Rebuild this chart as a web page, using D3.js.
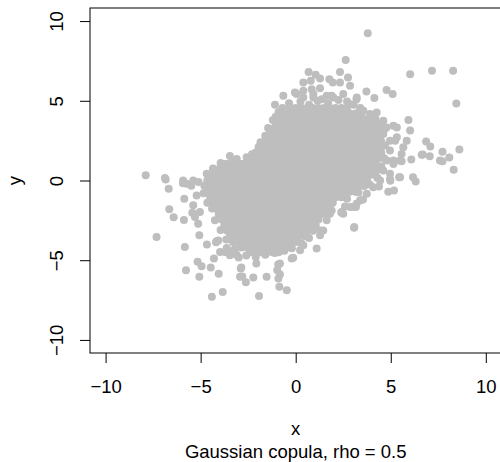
<!DOCTYPE html>
<html>
<head>
<meta charset="utf-8">
<script src="https://cdn.jsdelivr.net/npm/d3@7"></script>
<style>
	body { margin: 0; background: #fff; }
	svg { display: block; font-family: "Liberation Sans", Arial, Helvetica, sans-serif; }
</style>
</head>
<body>
<script>
"use strict";

var xTicks = [-10, -5, 0, 5, 10];
var yTicks = [-10, -5, 0, 5, 10];
var xLabel = "x";
var yLabel = "y";
var subTitle = "Gaussian copula, rho = 0.5";

// dense core of the cloud, read row by row: [y, [x values]]
var coreRows = [
	[4.55, [-0.3,0,0.3,0.6,0.9,1.2,1.5,1.8,2.1,2.4,2.7]],
	[4.2, [-0.75,-0.45,-0.15,0.15,0.45,0.75,1.05,1.35,1.65,1.95,2.25,2.55,2.85,3.15,3.45]],
	[3.85, [-0.9,-0.6,-0.3,0,0.3,0.6,0.9,1.2,1.5,1.8,2.1,2.4,2.7,3,3.3,3.6,3.9,4.2]],
	[3.5, [-1.05,-0.75,-0.45,-0.15,0.15,0.45,0.75,1.05,1.35,1.65,1.95,2.25,2.55,2.85,3.15,3.45,3.75,4.05,4.35]],
	[3.15, [-1.2,-0.9,-0.6,-0.3,0,0.3,0.6,0.9,1.2,1.5,1.8,2.1,2.4,2.7,3,3.3,3.6,3.9,4.2,4.5]],
	[2.8, [-1.35,-1.05,-0.75,-0.45,-0.15,0.15,0.45,0.75,1.05,1.35,1.65,1.95,2.25,2.55,2.85,3.15,3.45,3.75,4.05,4.35]],
	[2.45, [-1.5,-1.2,-0.9,-0.6,-0.3,0,0.3,0.6,0.9,1.2,1.5,1.8,2.1,2.4,2.7,3,3.3,3.6,3.9,4.2,4.5]],
	[2.1, [-1.95,-1.65,-1.35,-1.05,-0.75,-0.45,-0.15,0.15,0.45,0.75,1.05,1.35,1.65,1.95,2.25,2.55,2.85,3.15,3.45,3.75,4.05,4.35]],
	[1.75, [-2.1,-1.8,-1.5,-1.2,-0.9,-0.6,-0.3,0,0.3,0.6,0.9,1.2,1.5,1.8,2.1,2.4,2.7,3,3.3,3.6,3.9,4.2,4.5]],
	[1.4, [-2.55,-2.25,-1.95,-1.65,-1.35,-1.05,-0.75,-0.45,-0.15,0.15,0.45,0.75,1.05,1.35,1.65,1.95,2.25,2.55,2.85,3.15,3.45,3.75,4.05,4.35]],
	[1.05, [-3.6,-3.3,-3,-2.7,-2.4,-2.1,-1.8,-1.5,-1.2,-0.9,-0.6,-0.3,0,0.3,0.6,0.9,1.2,1.5,1.8,2.1,2.4,2.7,3,3.3,3.6,3.9,4.2]],
	[0.7, [-4.05,-3.75,-3.45,-3.15,-2.85,-2.55,-2.25,-1.95,-1.65,-1.35,-1.05,-0.75,-0.45,-0.15,0.15,0.45,0.75,1.05,1.35,1.65,1.95,2.25,2.55,2.85,3.15,3.45,3.75,4.05,4.35]],
	[0.35, [-4.5,-4.2,-3.9,-3.6,-3.3,-3,-2.7,-2.4,-2.1,-1.8,-1.5,-1.2,-0.9,-0.6,-0.3,0,0.3,0.6,0.9,1.2,1.5,1.8,2.1,2.4,2.7,3,3.3,3.6,3.9,4.2]],
	[0, [-4.65,-4.35,-4.05,-3.75,-3.45,-3.15,-2.85,-2.55,-2.25,-1.95,-1.65,-1.35,-1.05,-0.75,-0.45,-0.15,0.15,0.45,0.75,1.05,1.35,1.65,1.95,2.25,2.55,2.85,3.15,3.45,3.75]],
	[-0.35, [-4.8,-4.5,-4.2,-3.9,-3.6,-3.3,-3,-2.7,-2.4,-2.1,-1.8,-1.5,-1.2,-0.9,-0.6,-0.3,0,0.3,0.6,0.9,1.2,1.5,1.8,2.1,2.4,2.7,3,3.3,3.6]],
	[-0.7, [-4.65,-4.35,-4.05,-3.75,-3.45,-3.15,-2.85,-2.55,-2.25,-1.95,-1.65,-1.35,-1.05,-0.75,-0.45,-0.15,0.15,0.45,0.75,1.05,1.35,1.65,1.95,2.25,2.55,2.85,3.15]],
	[-1.05, [-4.5,-4.2,-3.9,-3.6,-3.3,-3,-2.7,-2.4,-2.1,-1.8,-1.5,-1.2,-0.9,-0.6,-0.3,0,0.3,0.6,0.9,1.2,1.5,1.8,2.1,2.4]],
	[-1.4, [-4.65,-4.35,-4.05,-3.75,-3.45,-3.15,-2.85,-2.55,-2.25,-1.95,-1.65,-1.35,-1.05,-0.75,-0.45,-0.15,0.15,0.45,0.75,1.05,1.35,1.65,1.95]],
	[-1.75, [-4.2,-3.9,-3.6,-3.3,-3,-2.7,-2.4,-2.1,-1.8,-1.5,-1.2,-0.9,-0.6,-0.3,0,0.3,0.6,0.9,1.2,1.5,1.8]],
	[-2.1, [-4.05,-3.75,-3.45,-3.15,-2.85,-2.55,-2.25,-1.95,-1.65,-1.35,-1.05,-0.75,-0.45,-0.15,0.15,0.45,0.75,1.05,1.35,1.65]],
	[-2.45, [-3.9,-3.6,-3.3,-3,-2.7,-2.4,-2.1,-1.8,-1.5,-1.2,-0.9,-0.6,-0.3,0,0.3,0.6,0.9,1.2]],
	[-2.8, [-3.75,-3.45,-3.15,-2.85,-2.55,-2.25,-1.95,-1.65,-1.35,-1.05,-0.75,-0.45,-0.15,0.15,0.45,0.75,1.05]],
	[-3.15, [-3.6,-3.3,-3,-2.7,-2.4,-2.1,-1.8,-1.5,-1.2,-0.9,-0.6,-0.3,0,0.3,0.6,0.9]],
	[-3.5, [-3.45,-3.15,-2.85,-2.55,-2.25,-1.95,-1.65,-1.35,-1.05,-0.75,-0.45,-0.15,0.15,0.45]],
	[-3.85, [-3.3,-3,-2.7,-2.4,-2.1,-1.8,-1.5,-1.2,-0.9,-0.6,-0.3,0]],
	[-4.2, [-2.85,-2.55,-2.25,-1.95,-1.65,-1.35,-1.05,-0.75,-0.45]],
	[-4.5, [-2.4,-2.1,-1.8,-1.5,-1.2,-0.9]]
];

// points sitting on the rim of the core, so its edge is ragged: [x, y]
var rimPoints = [
	[-0.35,4.85],[0.25,4.95],[0.7,4.75],[1.15,5.0],[1.7,4.85],[2.25,5.05],[2.7,4.95],[3.05,4.75],[3.4,4.55],
	[4.65,3.2],[4.7,2.2],[4.65,1.4],[4.5,0.9],[4.3,0.15],[3.9,-0.25],[3.3,-0.75],[2.7,-1.15],
	[-2.6,-4.7],[-2.1,-4.8],[-1.6,-4.65],[-1.1,-4.55],[-0.6,-4.4],[-0.2,-4.25],[0.3,-3.95],[0.7,-3.6],
	[-4.85,-0.8],[-4.4,-1.75],[-4.25,-2.5],[-3.95,-3.1],[-3.65,-3.7],[-3.2,-4.3],
	[-4.35,0.75],[-3.95,1.1],[-3.1,1.35],[-2.3,1.65],[-1.85,2.4],[-1.45,3.3],[-1.05,4.0],[-0.7,4.55]
];

// loose points around the core: [x, y]
var loosePoints = [
	[3.79,9.23],[2.63,7.56],[6.02,6.67],[7.17,6.88],[8.28,6.88],[8.45,4.83],[8.61,1.94],[8.31,0.67],
	[7.72,1.81],[8.08,1.44],[7.72,1.21],[7.59,1.25],[6.86,2.44],[7.08,2.14],[6.68,1.63],[7.05,1.52],[6.63,1.62],
	[6.08,1.31],[6.17,0.21],[6.31,-0.06],[5.44,0.21],[5.49,0.21],[4.96,0.1],[4.87,-0.71],[5.17,-0.63],[4.98,-0.02],
	[5.57,1.21],[5.14,1.25],[5.49,1.25],[4.38,-0.38],[3.54,-1.19],[3.17,-1.67],[2.59,-1.63],[2.4,-2.0],[3.07,-2.96],
	[5.93,3.79],[6.02,3.13],[5.84,2.5],[4.78,5.67],[5.1,5.42],[3.72,5.58],[4.14,5.17],[-1.09,4.75],[-0.65,5.31],
	[0.68,6.81],[1.05,6.63],[1.28,6.4],[2.33,6.81],[2.75,6.46],[0.4,6.15],[0.79,6.25],[1.77,6.35],[1.95,6.15],
	[2.33,6.15],[2.86,5.94],[-0.04,5.52],[0.4,5.63],[0.93,5.42],[1.37,5.1],[1.89,5.31],[2.5,5.42],[3.2,5.1],
	[0.84,5.73],[1.28,5.79],[0.05,5.42],[0.4,5.21],[0.93,5.21],[1.63,5.31],[1.98,5.21],[2.86,4.79],[3.21,5.21],
	[-0.74,4.06],[-1.35,3.23],[-1.53,2.5],[-1.7,1.67],[-1.6,2.8],[-1.2,3.8],[-0.9,4.3],
	[3.56,4.38],[4.26,4.27],[3.38,4.38],[3.91,4.17],[4.61,3.75],[5.14,3.44],[5.32,3.33],[4.78,3.33],[4.44,3.54],
	[4.61,2.92],[4.96,2.5],[5.32,2.71],[5.23,2.5],[5.66,2.08],[5.57,1.67],[4.96,1.88],[4.79,1.25],[5.14,1.04],
	[4.61,0.63],[4.96,0.42],[4.44,0],[4.08,-0.42],[3.74,-0.83],[3.38,-1.25],[2.86,-1.67],[2.5,-2.08],[1.8,-2.08],
	[1.63,-2.5],[1.28,-3.13],[1.89,-1.88],[2.42,-1.98],[3.03,-1.67],[3.08,-2.92],[3.2,-1.46],[1.45,-3.13],[1.28,-3.44],
	[1.1,-4.27],[0.4,-4.06],[0.23,-4.38],[-0.21,-4.9],[-0.13,-4.85],[-0.92,-5.27],[-0.83,-5.21],[-0.97,-5.63],
	[-0.83,-5.9],[-0.91,-6.15],[-1.53,-6.04],[-2.23,-6.08],[-2.07,-5.21],[-0.86,-6.67],[-0.47,-6.88],[-1.93,-7.25],
	[-2.86,-5.46],[-2.93,-6.04],[-2.62,-6.38],[-2.89,-5.52],[-2.81,-6.02],
	[-3.98,-4.48],[-3.72,-4.48],[-3.46,-4.69],[-3.0,-4.83],[-4.16,-3.81],[-3.63,-4.23],[-3.46,-4.44],[-3.11,-4.65],[-2.93,-3.6],
	[-7.32,-3.54],[-5.83,-4.17],[-5.07,-3.44],[-4.67,-4.02],[-4.19,-3.88],[-4.07,-3.77],[-5.16,-5.1],[-4.95,-5.38],
	[-4.47,-5.46],[-4.3,-4.9],[-5.77,-5.63],[-5.07,-6.04],[-4.05,-5.85],[-4.41,-7.29],[-3.84,-7.0],
	[-5.13,-2.71],[-5.3,-2.29],[-5.04,-1.98],[-5.39,-1.56],[-5.21,-0.94],[-5.74,-0.21],[-5.39,0.0],[-5.92,0.0],
	[-7.89,0.33],[-6.84,0.06],[-6.88,0.15],[-6.68,-0.52],[-5.86,-1.15],[-6.65,-1.81],[-6.42,-2.31],[-5.88,-2.48],
	[-5.44,-2.02],[-5.93,-0.17],[-5.49,-0.33],[-5.11,-0.1],
	[-3.46,1.54],[-3.77,0.94],[-4.16,0.63],[-4.68,0.42],[-3.81,1.04],[-3.28,1.25],[-2.93,1.04],[-2.58,1.46],[-2.41,1.35]
];

var width = 500;
var height = 462;
var margin = { top: 8, left: 90, right: -1.4, bottom: 109 };
var fontSize = 18.5;
var pointColor = "#bebebe";
var pointRadius = 4;

// flatten the core rows into [x, y] pairs
var points = [];
coreRows.forEach(function(row) {
	row[1].forEach(function(xv) { points.push([xv, row[0]]); });
});
points = points.concat(rimPoints, loosePoints);

var xScale = d3.scaleLinear()
	.domain([-10.82, 10.82])
	.range([margin.left, width - margin.right]);

var yScale = d3.scaleLinear()
	.domain([-10.82, 10.82])
	.range([height - margin.bottom, margin.top]);

var svg = d3.select("body").append("svg")
	.attr("width", width)
	.attr("height", height)
	.style("font-size", fontSize + "px");

svg.append("rect")
	.attr("width", width)
	.attr("height", height)
	.attr("fill", "#fff");

// the points
svg.append("g")
	.attr("class", "points")
	.selectAll("circle")
	.data(points)
	.enter()
	.append("circle")
	.attr("cx", function(d) { return xScale(d[0]); })
	.attr("cy", function(d) { return yScale(d[1]); })
	.attr("r", pointRadius)
	.attr("fill", pointColor);

// plot box
svg.append("rect")
	.attr("x", xScale.range()[0])
	.attr("y", yScale.range()[1])
	.attr("width", xScale.range()[1] - xScale.range()[0])
	.attr("height", yScale.range()[0] - yScale.range()[1])
	.attr("fill", "none")
	.attr("stroke", "#000")
	.attr("stroke-width", 1);

// x axis
var xAxis = svg.append("g")
	.attr("class", "axis")
	.attr("transform", "translate(0," + (height - margin.bottom) + ")")
	.call(d3.axisBottom(xScale).tickValues(xTicks).tickSizeOuter(0).tickSize(10));
xAxis.select(".domain").remove();
xAxis.selectAll("line").attr("stroke", "#000");
xAxis.selectAll("text")
	.attr("y", 40)
	.attr("dy", null)
	.attr("fill", "#000")
	.style("font-size", fontSize + "px")
	.style("font-family", "'Liberation Sans', Arial, sans-serif");

// y axis, labels parallel to the axis
var yAxis = svg.append("g")
	.attr("class", "axis")
	.attr("transform", "translate(" + margin.left + ",0)")
	.call(d3.axisLeft(yScale).tickValues(yTicks).tickSizeOuter(0).tickSize(10));
yAxis.select(".domain").remove();
yAxis.selectAll("line").attr("stroke", "#000");
yAxis.selectAll("text")
	.attr("x", 0)
	.attr("y", -26.7)
	.attr("dy", null)
	.attr("transform", "rotate(-90)")
	.attr("text-anchor", "middle")
	.attr("fill", "#000")
	.style("font-size", fontSize + "px")
	.style("font-family", "'Liberation Sans', Arial, sans-serif");

// axis labels and subtitle
svg.append("text")
	.attr("x", xScale(0))
	.attr("y", 435)
	.attr("text-anchor", "middle")
	.text(xLabel);

svg.append("text")
	.attr("transform", "translate(21," + yScale(0) + ") rotate(-90)")
	.attr("text-anchor", "middle")
	.text(yLabel);

svg.append("text")
	.attr("x", xScale(0))
	.attr("y", 458)
	.attr("text-anchor", "middle")
	.text(subTitle);
</script>
</body>
</html>
